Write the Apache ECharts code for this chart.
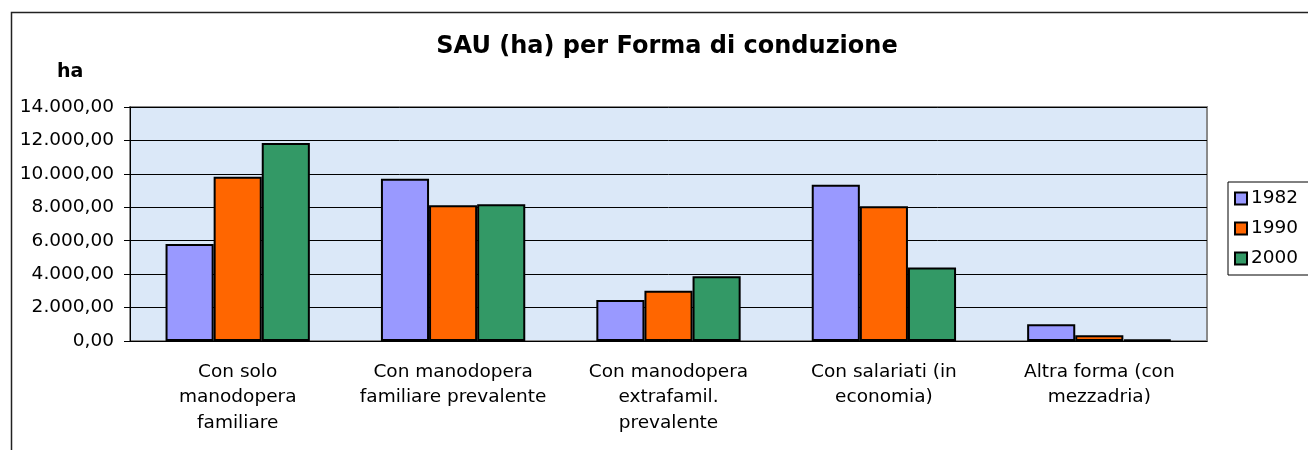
<!DOCTYPE html>
<html>
<head>
<meta charset="utf-8">
<script src="https://cdn.jsdelivr.net/npm/echarts@6/dist/echarts.min.js"></script>
<style>
  html, body { margin: 0; padding: 0; background: #fff; }
  #chart { width: 1308px; height: 450px; }
</style>
</head>
<body>
<div id="chart"></div>
<script>
// categories (x axis), with the line breaks of the original labels
const categories = [
  'Con solo\nmanodopera\nfamiliare',
  'Con manodopera\nfamiliare prevalente',
  'Con manodopera\nextrafamil.\nprevalente',
  'Con salariati (in\neconomia)',
  'Altra forma (con\nmezzadria)'
];
const years = ['1982', '1990', '2000'];

// SAU in ha
const sau1982 = [5800, 9700, 2450, 9350, 1000];
const sau1990 = [9820, 8120, 3000, 8060, 350];
const sau2000 = [11850, 8180, 3870, 4400, 80];

const barColors = ['#9999ff', '#ff6600', '#339966'];
const font = 'DejaVu Sans, Verdana, sans-serif';
const fs = 18.5;

// 14.000,00 style
const fmtIt = v => {
  const int = Math.round(v).toString().replace(/\B(?=(\d{3})+(?!\d))/g, '.');
  return int + ',00';
};

const chart = echarts.init(document.getElementById('chart'));

chart.setOption({
  animation: false,
  textStyle: { fontFamily: font, color: '#000' },
  title: {
    text: 'SAU (ha) per Forma di conduzione',
    left: 662,
    top: 30,
    textAlign: 'center',
    textStyle: { fontFamily: font, fontSize: 24, fontWeight: 'bold', color: '#000' }
  },
  graphic: [
    {
      type: 'rect',
      silent: true,
      shape: { x: 11.5, y: 12.5, width: 1400, height: 500 },
      style: { fill: 'none', stroke: '#222', lineWidth: 1.5 }
    },
    {
      type: 'text',
      left: 57,
      top: 63,
      style: { text: 'ha', fontFamily: font, fontSize: 19, fontWeight: 'bold', fill: '#000' }
    }
  ],
  legend: {
    orient: 'vertical',
    left: 1228,
    top: 182,
    padding: [7, 40, 7, 6],
    borderColor: '#000',
    borderWidth: 1,
    backgroundColor: '#fff',
    itemWidth: 12,
    itemHeight: 12,
    itemGap: 11,
    icon: 'rect',
    textStyle: { fontFamily: font, fontSize: fs, color: '#000', padding: [0, 0, 0, -1] },
    data: years
  },
  grid: {
    left: 130,
    right: 101,
    top: 107,
    bottom: 109,
    show: true,
    backgroundColor: '#dbe8f8',
    borderColor: '#8a8a8a',
    borderWidth: 2
  },
  xAxis: {
    type: 'category',
    data: categories,
    axisLine: { lineStyle: { color: '#000', width: 1 } },
    axisTick: { length: 6, lineStyle: { color: '#000' } },
    axisLabel: {
      color: '#000',
      fontFamily: font,
      fontSize: fs,
      lineHeight: 25.5,
      margin: 18,
      interval: 0
    }
  },
  yAxis: {
    type: 'value',
    min: 0,
    max: 14000,
    interval: 2000,
    axisLine: { show: true, lineStyle: { color: '#000', width: 1 } },
    axisTick: { show: true, length: 6, lineStyle: { color: '#000' } },
    splitLine: { lineStyle: { color: '#000', width: 1 } },
    axisLabel: {
      color: '#000',
      fontFamily: font,
      fontSize: fs,
      margin: 16,
      formatter: fmtIt
    }
  },
  series: [sau1982, sau1990, sau2000].map((vals, i) => ({
    name: years[i],
    type: 'bar',
    data: vals,
    barGap: '0%',
    barCategoryGap: '33%',
    itemStyle: { color: barColors[i], borderColor: '#000', borderWidth: 2 }
  }))
});
</script>
</body>
</html>
